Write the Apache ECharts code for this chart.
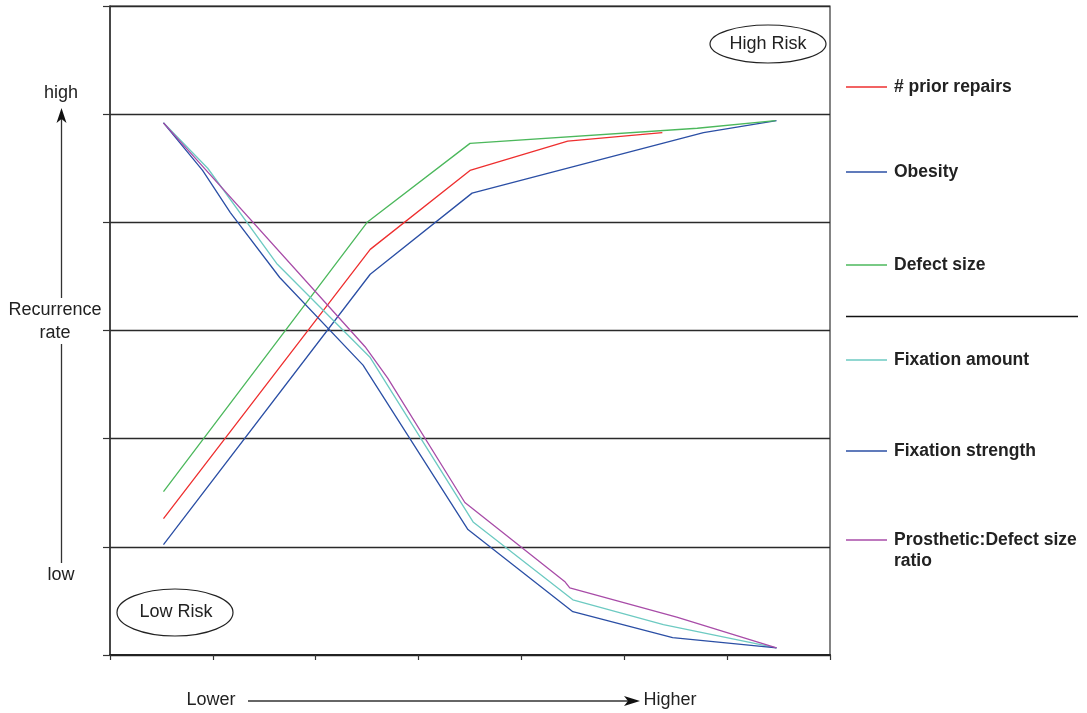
<!DOCTYPE html>
<html>
<head>
<meta charset="utf-8">
<script src="https://cdn.jsdelivr.net/npm/echarts@6/dist/echarts.min.js"></script>
<style>html,body{margin:0;padding:0;background:#fff;}#c{width:1087px;height:713px;}</style>
</head>
<body>
<div id="c"></div>
<script>
// Data (x = factor level 0..7, y = recurrence rate 0..6)
const priorRepairs = [[0.52,1.26],[2.53,3.75],[3.50,4.48],[4.45,4.75],[5.37,4.83]];
const obesity = [[0.52,1.02],[2.53,3.52],[3.52,4.27],[5.77,4.83],[6.48,4.94]];
const defectSize = [[0.52,1.51],[2.50,4.00],[3.50,4.73],[5.71,4.87],[6.47,4.94]];
const fixationAmount = [[0.52,4.92],[0.95,4.50],[1.62,3.62],[2.53,2.75],[3.53,1.23],[4.50,0.51],[5.38,0.28],[6.48,0.065]];
const fixationStrength = [[0.52,4.92],[0.90,4.48],[1.17,4.09],[1.65,3.49],[2.46,2.68],[3.48,1.16],[4.50,0.40],[5.47,0.16],[6.48,0.065]];
const prosthetic = [[0.52,4.92],[2.48,2.85],[2.70,2.56],[3.45,1.41],[4.42,0.68],[4.47,0.62],[5.51,0.35],[6.48,0.065]];

const seriesNames = ['# prior repairs','Obesity','Defect size','Fixation amount','Fixation strength','Prosthetic:Defect size ratio'];
const seriesData = [priorRepairs, obesity, defectSize, fixationAmount, fixationStrength, prosthetic];
const seriesColors = ['#ee2f2f','#2b4fa5','#4cb85c','#6dcac2','#2b4fa5','#a84ca8'];
const legendTops = [78, 163, 256, 351, 442, 531];

const FONT = '"Liberation Sans", Arial, sans-serif';
const chart = echarts.init(document.getElementById('c'), null, {renderer:'canvas'});

const legends = seriesNames.map((n, i) => ({
  data: [n],
  left: 846,
  top: legendTops[i],
  padding: 0,
  icon: 'rect',
  itemWidth: 41,
  itemHeight: 1.5,
  selectedMode: false,
  formatter: (name) => name === 'Prosthetic:Defect size ratio' ? 'Prosthetic:Defect size' : name,
  textStyle: {fontFamily: FONT, fontWeight: 'bold', fontSize: 17.5, color: '#222', padding:[0,0,0,2]}
}));

const option = {
  animation: false,
  backgroundColor: '#fff',
  grid: {left: 110, right: 257, top: 6, bottom: 58, show: true, borderColor: '#333', borderWidth: 1.2},
  legend: legends,
  xAxis: {
    type: 'value', min: 0, max: 7, interval: 1,
    axisLine: {show: true, onZero: false, lineStyle: {color: '#222', width: 2.2}},
    axisTick: {show: true, length: 5, lineStyle: {color: '#333', width: 1.2}},
    axisLabel: {show: false},
    splitLine: {show: false}
  },
  yAxis: {
    type: 'value', min: 0, max: 6, interval: 1,
    axisLine: {show: true, lineStyle: {color: '#333', width: 1.5}},
    axisTick: {show: true, length: 7, lineStyle: {color: '#333', width: 1.2}},
    axisLabel: {show: false},
    splitLine: {show: true, lineStyle: {color: '#2a2a2a', width: 1.3}}
  },
  series: seriesNames.map((n, i) => ({
    name: n, type: 'line', data: seriesData[i],
    showSymbol: false, symbol: 'none',
    lineStyle: {color: seriesColors[i], width: 1.3},
    itemStyle: {color: seriesColors[i]},
    z: 3
  })),
  graphic: [
    // y-axis annotation
    {type:'text', x: 61, y: 93, style:{text:'high', font:'18px '+FONT, fill:'#222', align:'center', verticalAlign:'middle'}},
    {type:'line', shape:{x1:61.5, y1:298, x2:61.5, y2:118}, style:{stroke:'#333', lineWidth:1.3}},
    {type:'polygon', shape:{points:[[61.5,108],[56.5,123],[61.5,119],[66.5,123]]}, style:{fill:'#111'}},
    {type:'text', x: 55, y: 310, style:{text:'Recurrence', font:'18px '+FONT, fill:'#222', align:'center', verticalAlign:'middle'}},
    {type:'text', x: 55, y: 333, style:{text:'rate', font:'18px '+FONT, fill:'#222', align:'center', verticalAlign:'middle'}},
    {type:'line', shape:{x1:61.5, y1:344, x2:61.5, y2:563}, style:{stroke:'#333', lineWidth:1.3}},
    {type:'text', x: 61, y: 575, style:{text:'low', font:'18px '+FONT, fill:'#222', align:'center', verticalAlign:'middle'}},
    // x-axis annotation
    {type:'text', x: 211, y: 700, style:{text:'Lower', font:'18px '+FONT, fill:'#222', align:'center', verticalAlign:'middle'}},
    {type:'line', shape:{x1:248, y1:701, x2:630, y2:701}, style:{stroke:'#333', lineWidth:1.3}},
    {type:'polygon', shape:{points:[[640,701],[624,696],[628,701],[624,706]]}, style:{fill:'#111'}},
    {type:'text', x: 670, y: 700, style:{text:'Higher', font:'18px '+FONT, fill:'#222', align:'center', verticalAlign:'middle'}},
    // risk ellipses
    {type:'ellipse', shape:{cx:768, cy:44, rx:58, ry:19}, style:{fill:'#fff', stroke:'#222', lineWidth:1.2}, z:10},
    {type:'text', x: 768, y: 44, z:11, style:{text:'High Risk', font:'18px '+FONT, fill:'#222', align:'center', verticalAlign:'middle'}},
    {type:'ellipse', shape:{cx:175, cy:612.5, rx:58, ry:23.5}, style:{fill:'#fff', stroke:'#222', lineWidth:1.2}, z:10},
    {type:'text', x: 176, y: 612, z:11, style:{text:'Low Risk', font:'18px '+FONT, fill:'#222', align:'center', verticalAlign:'middle'}},
    // legend separator and wrapped label
    {type:'line', shape:{x1:846, y1:316.5, x2:1078, y2:316.5}, style:{stroke:'#111', lineWidth:1.3}},
    {type:'text', x: 894, y: 561, style:{text:'ratio', font:'bold 17.5px '+FONT, fill:'#222', align:'left', verticalAlign:'middle'}}
  ]
};
chart.setOption(option);
</script>
</body>
</html>
